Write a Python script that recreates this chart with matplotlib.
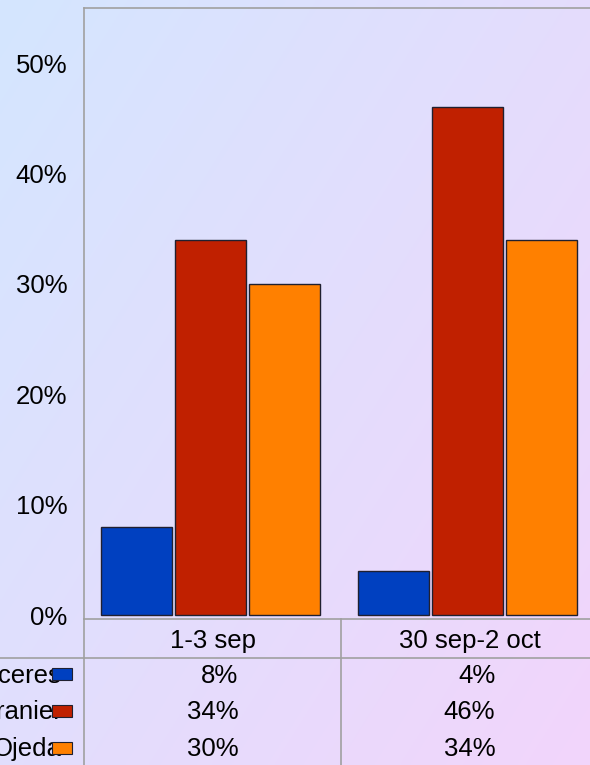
import numpy as np
import matplotlib.pyplot as plt
import matplotlib.transforms as mtransforms
from matplotlib.lines import Line2D
from matplotlib.patches import Rectangle

# datos
fechas = ['1-3 sep', '30 sep-2 oct']
candidatos = ['Cáceres', 'Granier', 'Ojeda']
caceres = [8, 4]
granier = [34, 46]
ojeda = [30, 34]
colores = ['#0040C0', '#C02000', '#FF8000']
yticks = [0, 10, 20, 30, 40, 50]

W, H = 590, 765
fs = 18.5
fig = plt.figure(figsize=(W / 100, H / 100), dpi=100)
plt.rcParams['font.family'] = ['Liberation Sans', 'DejaVu Sans']

# fondo degradado
bg = fig.add_axes([0, 0, 1, 1], zorder=-10)
xx, yy = np.meshgrid(np.linspace(0, 1, 300), np.linspace(0, 1, 300))
t = (xx * 0.55 + yy * 0.45)
c1 = np.array([212, 230, 255]) / 255
c2 = np.array([242, 213, 251]) / 255
img = c1[None, None, :] * (1 - t[..., None]) + c2[None, None, :] * t[..., None]
bg.imshow(img, extent=[0, 1, 0, 1], aspect='auto', origin='upper')
bg.axis('off')

# area del grafico
left, right, top, bottom = 84, 598, 8, 619
ax = fig.add_axes([left / W, 1 - bottom / H, (right - left) / W, (bottom - top) / H])
ax.patch.set_alpha(0)

series = [caceres, granier, ojeda]
x = np.arange(len(fechas))
ancho = 0.276
paso = 0.288
for i, vals in enumerate(series):
    ax.bar(x + (i - 1) * paso - 0.007, vals, ancho, color=colores[i],
           edgecolor='#202030', linewidth=1.0, zorder=3)

ax.set_xlim(-0.5, 1.5)
ax.set_ylim(-0.35, 55)
ax.set_yticks(yticks)
ax.set_yticklabels([f'{v}%' for v in yticks], fontsize=fs)
ax.tick_params(axis='y', length=0, pad=12)
ax.set_xticks([])
for s in ['left', 'top', 'bottom']:
    ax.spines[s].set_color('#A0A0A0')
    ax.spines[s].set_linewidth(1.2)
ax.spines['right'].set_visible(False)

# tabla de datos
tr = mtransforms.blended_transform_factory(ax.transData, fig.transFigure)
fy = lambda p: 1 - p / H

def linea_fig(x0, x1, y0, y1):
    fig.add_artist(Line2D([x0 / W, x1 / W], [fy(y0), fy(y1)], color='#A0A0A0',
                          linewidth=1.2, transform=fig.transFigure))

linea_fig(left, left, bottom, H)
linea_fig(0, W, 658, 658)
fig.add_artist(Line2D([0.5, 0.5], [fy(bottom), fy(H)], color='#A0A0A0',
                      linewidth=1.2, transform=tr))

for j, f in enumerate(fechas):
    fig.text(x[j], fy(641), f, transform=tr, ha='center', va='center', fontsize=fs)

filas_y = [676, 712, 749]
for i, vals in enumerate(series):
    for j, v in enumerate(vals):
        fig.text(x[j] + 0.1, fy(filas_y[i]), f'{v}%', transform=tr,
                 ha='right', va='center', fontsize=fs)
    fig.text(62 / W, fy(filas_y[i]), candidatos[i], ha='right', va='center', fontsize=fs)
    my = [674, 711, 748][i]
    fig.add_artist(Rectangle((52 / W, fy(my + 6)), 20 / W, 12 / H, facecolor=colores[i],
                             edgecolor='#202030', linewidth=0.8, transform=fig.transFigure,
                             zorder=5))

plt.savefig('out.png', dpi=100)
